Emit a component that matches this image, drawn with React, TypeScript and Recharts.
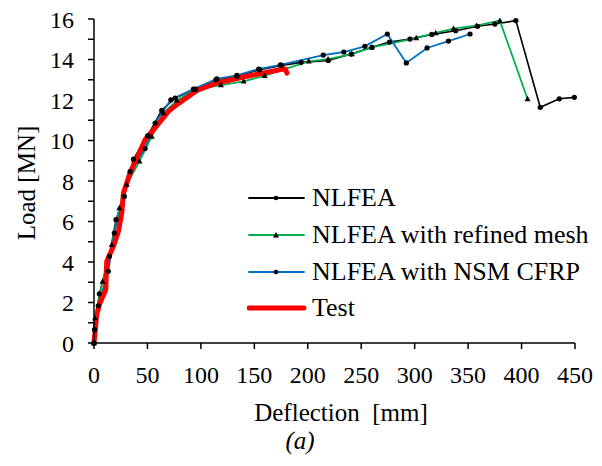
import { LineChart, Line, XAxis, YAxis } from 'recharts';

const xTicks = [0, 50, 100, 150, 200, 250, 300, 350, 400, 450];
const yTicks = [0, 1, 2, 3, 4, 5, 6, 7, 8, 9, 10, 11, 12, 13, 14, 15, 16];

const nlfea = [
  { x: 0, y: 0 }, { x: 0.5, y: 0.66 }, { x: 5, y: 2.43 }, { x: 14.4, y: 4.28 }, { x: 20.6, y: 6.09 },
  { x: 28.4, y: 7.24 }, { x: 36.9, y: 9.08 }, { x: 50.3, y: 10.24 }, { x: 63.4, y: 11.49 }, { x: 75.9, y: 12.1 },
  { x: 95, y: 12.54 }, { x: 114, y: 13.0 }, { x: 133.7, y: 13.17 }, { x: 155, y: 13.5 }, { x: 175.5, y: 13.71 },
  { x: 193.8, y: 13.86 }, { x: 219.2, y: 13.95 }, { x: 240.6, y: 14.27 }, { x: 260, y: 14.6 }, { x: 276.5, y: 14.86 },
  { x: 295.6, y: 15.01 }, { x: 316, y: 15.24 }, { x: 338.4, y: 15.42 }, { x: 358.8, y: 15.64 }, { x: 375, y: 15.75 },
  { x: 394.7, y: 15.92 }, { x: 417.5, y: 11.64 }, { x: 435.3, y: 12.06 }, { x: 449.4, y: 12.13 },
];

const refined = [
  { x: 0, y: 0 }, { x: 1, y: 1.23 }, { x: 8, y: 3.04 }, { x: 16.6, y: 4.85 }, { x: 23.7, y: 6.67 },
  { x: 30.6, y: 7.82 }, { x: 42.5, y: 8.97 }, { x: 54, y: 10.2 }, { x: 65, y: 11.36 }, { x: 77.5, y: 11.98 },
  { x: 94, y: 12.5 }, { x: 118.7, y: 12.74 }, { x: 140, y: 12.92 }, { x: 159.7, y: 13.2 }, { x: 200.9, y: 13.91 },
  { x: 219, y: 14.02 }, { x: 241.3, y: 14.27 }, { x: 260, y: 14.6 }, { x: 301.5, y: 15.06 }, { x: 319.7, y: 15.31 },
  { x: 336.3, y: 15.52 }, { x: 357.8, y: 15.67 }, { x: 379.7, y: 15.92 }, { x: 405.6, y: 12.05 },
];

const nsm = [
  { x: 0, y: 0 }, { x: 4, y: 1.84 }, { x: 13.4, y: 3.54 }, { x: 19, y: 5.43 }, { x: 33.75, y: 8.47 },
  { x: 47.8, y: 9.6 }, { x: 57.2, y: 10.86 }, { x: 71.9, y: 12.01 }, { x: 93, y: 12.54 }, { x: 114.9, y: 13.04 },
  { x: 133.7, y: 13.22 }, { x: 154, y: 13.53 }, { x: 174.4, y: 13.73 }, { x: 214.5, y: 14.22 }, { x: 233.7, y: 14.37 },
  { x: 253.4, y: 14.65 }, { x: 274.4, y: 15.26 }, { x: 292.2, y: 13.83 }, { x: 311.6, y: 14.57 }, { x: 331.6, y: 14.91 },
  { x: 351.8, y: 15.26 },
];

const test = [
  { x: 0, y: 0 }, { x: 2.5, y: 1.4 }, { x: 5.6, y: 1.98 }, { x: 11, y: 2.63 }, { x: 11.9, y: 4.03 },
  { x: 18.1, y: 4.77 }, { x: 22.8, y: 5.51 }, { x: 26, y: 6.42 }, { x: 27.5, y: 7.4 }, { x: 33.75, y: 8.4 },
  { x: 47.8, y: 10.04 }, { x: 55.6, y: 10.53 }, { x: 69.7, y: 11.44 }, { x: 77.5, y: 11.77 }, { x: 96.3, y: 12.47 },
  { x: 115, y: 12.84 }, { x: 143, y: 13.17 }, { x: 174.4, y: 13.5 }, { x: 179, y: 13.53 }, { x: 180.5, y: 13.33 },
];

const FONT = '"Liberation Serif", "Times New Roman", serif';

const Dot = (p: any) => <circle key={p.index} cx={p.cx} cy={p.cy} r={2.6} fill="#000" />;
const Tri = (p: any) => (
  <path key={p.index} d={`M${p.cx},${p.cy - 3.2} L${p.cx + 3},${p.cy + 2.2} L${p.cx - 3},${p.cy + 2.2} Z`} fill="#000" />
);

const legendItems = [
  { name: 'NLFEA', color: '#000000', w: 1.8, marker: 'dot' },
  { name: 'NLFEA with refined mesh', color: '#00b050', w: 1.8, marker: 'tri' },
  { name: 'NLFEA with NSM CFRP', color: '#0070c0', w: 1.8, marker: 'dot' },
  { name: 'Test', color: '#ff0000', w: 5, marker: '' },
];

function LegendBox() {
  return (
    <div style={{ position: 'absolute', left: 247, top: 180, fontFamily: FONT, fontSize: 26, color: '#000' }}>
      {legendItems.map((it) => (
        <div key={it.name} style={{ display: 'flex', alignItems: 'center', height: 36.7, whiteSpace: 'nowrap' }}>
          <svg width={62} height={12} style={{ marginRight: 3 }}>
            <line x1={2} y1={6} x2={57} y2={6} stroke={it.color} strokeWidth={it.w} strokeLinecap="round" />
            {it.marker === 'dot' && <circle cx={29} cy={6} r={2.3} fill="#000" />}
            {it.marker === 'tri' && <path d="M29,3 L32,8.5 L26,8.5 Z" fill="#000" />}
          </svg>
          <span>{it.name}</span>
        </div>
      ))}
    </div>
  );
}

export default function App() {
  return (
    <div style={{ position: 'absolute', left: 0, top: 0, width: 602, height: 466, background: '#fff', fontFamily: FONT }}>
      <LineChart width={602} height={466} margin={{ top: 19, right: 27, left: 0, bottom: 83 }} style={{ fontFamily: FONT }}>
        <XAxis type="number" dataKey="x" domain={[0, 450]} ticks={xTicks} height={40}
          axisLine={{ stroke: '#000', strokeWidth: 1.5 }} tickLine={{ stroke: '#000', strokeWidth: 1.5 }}
          tickSize={6} tickMargin={17} tick={{ fill: '#000', fontSize: 24, fontFamily: FONT }} />
        <YAxis type="number" dataKey="y" domain={[0, 16]} ticks={yTicks} width={94} interval={0}
          tickFormatter={(v: number) => (v % 2 === 0 ? String(v) : '')}
          axisLine={{ stroke: '#000', strokeWidth: 1.5 }} tickLine={{ stroke: '#000', strokeWidth: 1.5 }}
          tickSize={6} tickMargin={14} tick={{ fill: '#000', fontSize: 24, fontFamily: FONT }} />
        <Line data={nlfea} dataKey="y" name="NLFEA" stroke="#000" strokeWidth={1.6} dot={Dot} isAnimationActive={false} />
        <Line data={refined} dataKey="y" name="NLFEA with refined mesh" stroke="#00b050" strokeWidth={1.8} dot={Tri} isAnimationActive={false} />
        <Line data={nsm} dataKey="y" name="NLFEA with NSM CFRP" stroke="#0070c0" strokeWidth={1.8} dot={Dot} isAnimationActive={false} />
        <Line data={test} dataKey="y" name="Test" stroke="#ff0000" strokeWidth={5} strokeLinecap="round" strokeLinejoin="round" dot={false} isAnimationActive={false} />
      </LineChart>
      <LegendBox />
      <div style={{ position: 'absolute', left: 27, top: 183, transform: 'translate(-50%, -50%) rotate(-90deg)', whiteSpace: 'nowrap', fontSize: 25 }}>
        Load [MN]
      </div>
      <div style={{ position: 'absolute', left: 341, top: 413, transform: 'translate(-50%, -50%)', whiteSpace: 'nowrap', fontSize: 25 }}>
        Deflection&nbsp; [mm]
      </div>
      <div style={{ position: 'absolute', left: 300, top: 441, transform: 'translate(-50%, -50%)', whiteSpace: 'nowrap', fontSize: 25, fontStyle: 'italic' }}>
        (a)
      </div>
    </div>
  );
}
